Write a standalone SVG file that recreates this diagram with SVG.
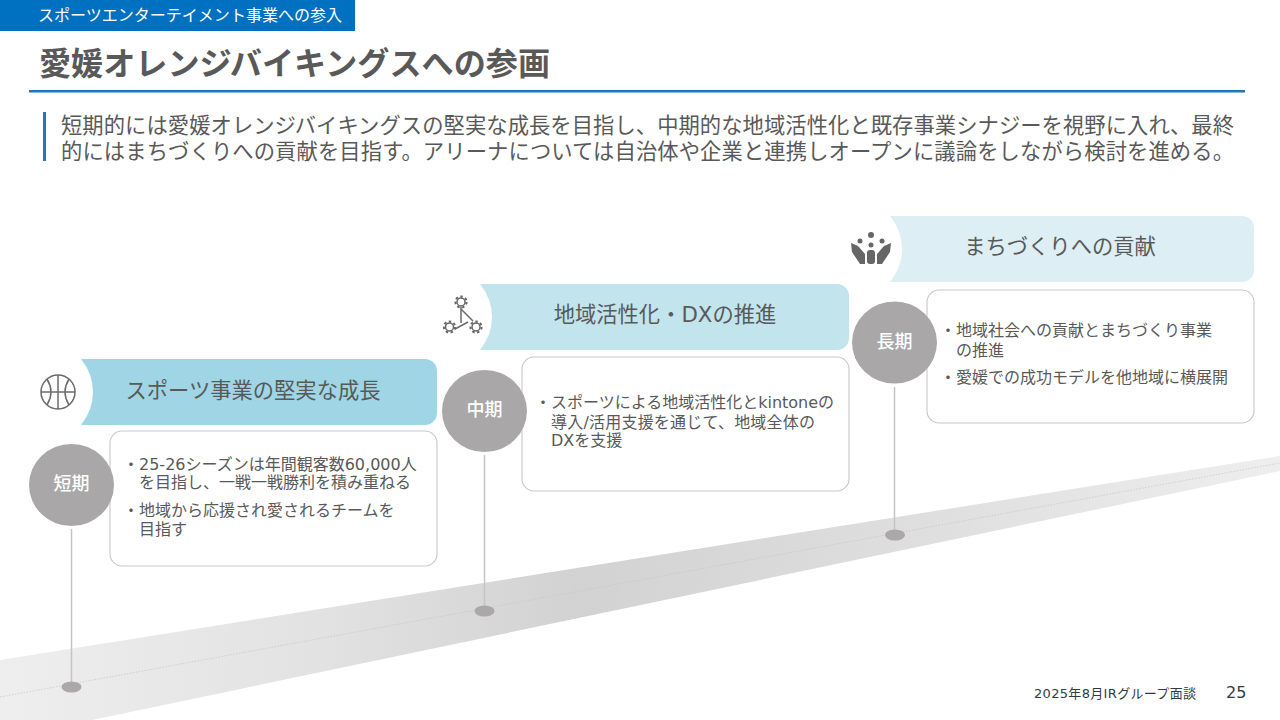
<svg xmlns="http://www.w3.org/2000/svg" width="1280" height="720" viewBox="0 0 1280 720">
<style>
text{font-family:"DejaVu Sans","Noto Sans CJK JP",sans-serif;fill:#595959}
.j{font-family:"Noto Sans CJK JP",sans-serif}
.lead{font-size:21.300px}
.ban{font-size:21.300px;text-anchor:middle}
.b{font-size:16px}
.badge{font-size:18px;fill:#fff;text-anchor:middle;font-family:"Noto Sans CJK JP",sans-serif;font-weight:500}
.box{fill:#fff;stroke:#c8c8c8;stroke-width:1.100}
.circ{fill:#a9a7a8}
.stem{stroke:#c4c4c4;stroke-width:1.500;fill:none}
.dot{fill:#aaa8a9}
.ic{fill:none;stroke:#6b6b6b;stroke-width:1.500}
.ring{fill:none;stroke:#666;stroke-width:1.500}
.gear{fill:none;stroke:#666;stroke-width:2;stroke-dasharray:2.500 2.500}
.icf{fill:#666}
</style>
<defs>
<linearGradient id="road" x1="0" y1="0" x2="1280" y2="0" gradientUnits="userSpaceOnUse">
<stop offset="0" stop-color="#eeeeee"/><stop offset="0.25" stop-color="#e2e2e2"/><stop offset="0.45" stop-color="#d2d2d2"/><stop offset="0.75" stop-color="#e0e0e0"/><stop offset="1" stop-color="#eeeeee"/>
</linearGradient>
</defs>
<rect width="1280" height="720" fill="#fff"/>
<g id="header">
<rect x="0" y="0" width="355" height="31" fill="#0070c0"/>
<text class="j" x="38" y="20.500" font-size="16" textLength="304" lengthAdjust="spacingAndGlyphs" style="fill:#fff">スポーツエンターテイメント事業への参入</text>
<text class="j" x="39" y="75" font-size="32" font-weight="700" textLength="511" lengthAdjust="spacingAndGlyphs">愛媛オレンジバイキングスへの参画</text>
<rect x="29" y="90" width="1216" height="2.500" fill="#1f78b4"/>
<rect x="43" y="112" width="3" height="49" fill="#1f78b4"/>
<text class="j lead" x="61" y="133" textLength="1173" lengthAdjust="spacing">短期的には愛媛オレンジバイキングスの堅実な成長を目指し、中期的な地域活性化と既存事業シナジーを視野に入れ、最終</text>
<text class="j lead" x="61" y="159" textLength="1173" lengthAdjust="spacing">的にはまちづくりへの貢献を目指す。アリーナについては自治体や企業と連携しオープンに議論をしながら検討を進める。</text>
</g>
<g id="road-band">
<polygon points="0,660 1280,456 1280,471 92,720 0,720" fill="url(#road)"/>
<line x1="0" y1="697" x2="1280" y2="463" stroke="#c4c4c4" stroke-width="0.700" stroke-dasharray="1.500 1.500"/>
</g>
<g id="connectors">
<line class="stem" x1="71.500" y1="529" x2="71.500" y2="687"/>
<line class="stem" x1="484.500" y1="455" x2="484.500" y2="611"/>
<line class="stem" x1="894.500" y1="387" x2="894.500" y2="535"/>
<ellipse class="dot" cx="71.500" cy="687" rx="10" ry="5.500"/>
<ellipse class="dot" cx="484.500" cy="611" rx="10" ry="5.500"/>
<ellipse class="dot" cx="895" cy="535" rx="10" ry="5.500"/>
</g>
<g id="node-short">
<path d="M81,359H425a12,12 0 0 1 12,12V413a12,12 0 0 1 -12,12H81Q93,410 93,392Q93,374 81,359Z" fill="#9fd5e5"/>
<text class="j ban" x="253" y="398">スポーツ事業の堅実な成長</text>
<g class="ic"><circle cx="58" cy="392" r="17"/><line x1="58" y1="375" x2="58" y2="409"/><line x1="41" y1="392" x2="75" y2="392"/><path d="M47,379Q55,392 47,405M69,379Q61,392 69,405"/></g>
<rect class="box" x="110" y="431" width="327" height="135" rx="12"/>
<ellipse class="circ" cx="71.500" cy="485" rx="42.500" ry="41"/>
<text class="badge" x="71.500" y="490">短期</text>
<text class="b" x="123" y="470">・<tspan x="139">25-26シーズンは年間観客数60,000人</tspan></text>
<text class="j b" x="139" y="488">を目指し、一戦一戦勝利を積み重ねる</text>
<text class="j b" x="123" y="516">・<tspan x="139">地域から応援され愛されるチームを</tspan></text>
<text class="j b" x="139" y="535">目指す</text>
</g>
<g id="node-mid">
<path d="M480,284H837a12,12 0 0 1 12,12V338a12,12 0 0 1 -12,12H480Q492,335 492,317Q492,299 480,284Z" fill="#c1e4ed"/>
<text class="ban" x="665" y="322">地域活性化・DXの推進</text>
<g class="ic"><line x1="461" y1="307" x2="461" y2="323"/><line x1="461" y1="309" x2="473" y2="321"/><line x1="455" y1="329" x2="468" y2="322"/></g>
<g><circle class="ring" cx="461" cy="302" r="4"/><circle class="gear" cx="461" cy="302" r="5.600"/><circle class="ring" cx="449.500" cy="327" r="4"/><circle class="gear" cx="449.500" cy="327" r="5.600"/><circle class="ring" cx="476" cy="327" r="4"/><circle class="gear" cx="476" cy="327" r="5.600"/></g>
<rect class="box" x="522" y="357" width="327" height="134" rx="12"/>
<ellipse class="circ" cx="484.500" cy="411" rx="42.500" ry="41"/>
<text class="badge" x="484.500" y="416">中期</text>
<text class="b" x="535" y="408">・<tspan x="551">スポーツによる地域活性化とkintoneの</tspan></text>
<text class="b" x="551" y="428" textLength="264" lengthAdjust="spacing">導入/活用支援を通じて、地域全体の</text>
<text class="b" x="551" y="446">DXを支援</text>
</g>
<g id="node-long">
<path d="M890,216H1242a12,12 0 0 1 12,12V270a12,12 0 0 1 -12,12H890Q902,267 902,249Q902,231 890,216Z" fill="#ddeff4"/>
<text class="j ban" x="1060" y="254">まちづくりへの貢献</text>
<g class="icf"><circle cx="871" cy="235" r="3"/><circle cx="860" cy="241" r="2.500"/><circle cx="882" cy="241" r="2.500"/><circle cx="871" cy="245" r="2.500"/><path d="M851,243L858,246L865,254V264H860L852,252Z"/><path d="M891,243L884,246L877,254V264H882L890,252Z"/><rect x="867" y="250" width="8" height="14" rx="3"/></g>
<rect class="box" x="927" y="290" width="327" height="133" rx="12"/>
<ellipse class="circ" cx="894.500" cy="342.500" rx="42.500" ry="41"/>
<text class="badge" x="894.500" y="347.500">長期</text>
<text class="j b" x="940" y="336">・<tspan x="956">地域社会への貢献とまちづくり事業</tspan></text>
<text class="j b" x="956" y="356">の推進</text>
<text class="j b" x="940" y="383">・<tspan x="956">愛媛での成功モデルを他地域に横展開</tspan></text>
</g>
<g id="footer">
<text x="1034" y="698" font-size="13" textLength="162" lengthAdjust="spacing" style="fill:#2f3b45">2025年8月IRグループ面談</text>
<text x="1226" y="698" font-size="16" style="fill:#2f3b45">25</text>
</g>
</svg>
